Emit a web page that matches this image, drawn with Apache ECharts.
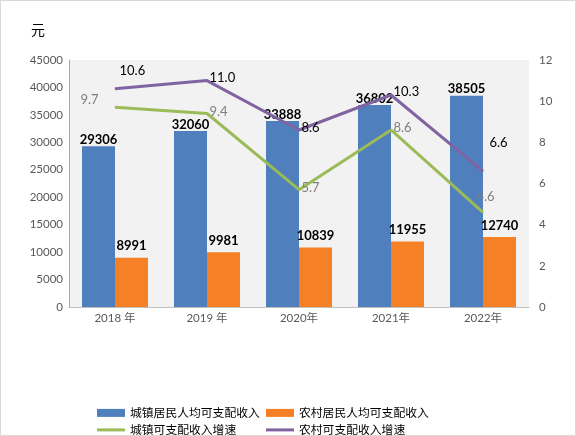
<!DOCTYPE html>
<html>
<head>
<meta charset="utf-8">
<script src="https://cdn.jsdelivr.net/npm/echarts@6/dist/echarts.min.js"></script>
<style>
html,body{margin:0;padding:0;background:#fff;}
#main{width:576px;height:436px;}
</style>
</head>
<body>
<div id="main"></div>
<script>
var years = ['2018 年', '2019 年', '2020年', '2021年', '2022年'];
var urbanIncome = [29306, 32060, 33888, 36802, 38505];
var ruralIncome = [8991, 9981, 10839, 11955, 12740];
var urbanGrowth = [9.7, 9.4, 5.7, 8.6, 4.6];
var ruralGrowth = [10.6, 11.0, 8.6, 10.3, 6.6];

// 标签位置：每个点单独摆放
var urbanPos = [[-34, -14], [3, -8], [3, -8], [3, -8], [-6, -22]];
var ruralPos = [[5, -24], [3, -9], [3, -8], [3, -9], [7, -34]];

var font = 'Lato, "Noto Sans CJK SC", sans-serif';

function lineData(vals, pos, color) {
    return vals.map(function (v, i) {
        return {
            value: v,
            label: {
                show: true,
                position: [pos[i][0], pos[i][1]],
                formatter: v.toFixed(1),
                color: color,
                fontSize: 13,
                fontFamily: font
            }
        };
    });
}

function oneLegend(name, left, top, h) {
    return {
        orient: 'horizontal',
        left: left, top: top,
        itemWidth: 28, itemHeight: h,
        itemGap: 4,
        icon: 'rect',
        textStyle: {fontSize: 11.8, color: '#000', fontFamily: font},
        data: [name]
    };
}

var myChart = echarts.init(document.getElementById('main'));
var opt = {
    animation: false,
    textStyle: {fontFamily: font},
    title: {
        text: '元',
        left: 26,
        top: 18,
        textStyle: {fontSize: 14, fontWeight: 'normal', color: '#000', fontFamily: font}
    },
    graphic: [{
        type: 'rect',
        shape: {x: 0, y: 0, width: 576, height: 436},
        style: {fill: 'none', stroke: '#d9d9d9', lineWidth: 2},
        z: -1
    }],
    grid: {
        left: 69, right: 47, top: 60, bottom: 129,
        show: true, backgroundColor: '#f2f2f2', borderWidth: 0
    },
    legend: [
        oneLegend('城镇居民人均可支配收入', 92, 402, 8),
        oneLegend('农村居民人均可支配收入', 261, 402, 8),
        oneLegend('城镇可支配收入增速', 92, 419, 3),
        oneLegend('农村可支配收入增速', 261, 419, 3)
    ],
    xAxis: {
        type: 'category',
        data: years,
        axisLine: {lineStyle: {color: '#bfbfbf'}},
        axisTick: {show: false},
        axisLabel: {color: '#595959', fontSize: 11.5, margin: 6}
    },
    yAxis: [{
        type: 'value',
        min: 0, max: 45000, interval: 5000,
        axisLine: {show: true, lineStyle: {color: '#a6a6a6'}},
        axisTick: {show: false},
        splitLine: {show: false},
        axisLabel: {color: '#595959', fontSize: 11.5, margin: 6, formatter: function (v) { return String(v); }}
    }, {
        type: 'value',
        min: 0, max: 12, interval: 2,
        axisLine: {show: false},
        axisTick: {show: false},
        splitLine: {show: false},
        axisLabel: {color: '#595959', fontSize: 11.5, margin: 10}
    }],
    series: [{
        name: '城镇居民人均可支配收入',
        type: 'bar',
        data: urbanIncome,
        barWidth: 33,
        barGap: '0%',
        itemStyle: {color: '#4f7fbc'},
        label: {show: true, position: 'top', distance: 0, color: '#000', fontWeight: 'bold', fontSize: 13}
    }, {
        name: '农村居民人均可支配收入',
        type: 'bar',
        data: ruralIncome,
        barWidth: 33,
        barGap: '0%',
        itemStyle: {color: '#f58025'},
        label: {show: true, position: 'top', distance: 5, color: '#000', fontWeight: 'bold', fontSize: 13}
    }, {
        name: '城镇可支配收入增速',
        type: 'line',
        yAxisIndex: 1,
        data: lineData(urbanGrowth, urbanPos, '#7f7f7f'),
        symbol: 'circle',
        symbolSize: 1,
        showSymbol: true,
        lineStyle: {color: '#9bbb59', width: 3},
        itemStyle: {color: '#9bbb59'}
    }, {
        name: '农村可支配收入增速',
        type: 'line',
        yAxisIndex: 1,
        data: lineData(ruralGrowth, ruralPos, '#000'),
        symbol: 'circle',
        symbolSize: 1,
        showSymbol: true,
        lineStyle: {color: '#8064a2', width: 3},
        itemStyle: {color: '#8064a2'}
    }]
};
myChart.setOption(opt);
</script>
</body>
</html>
